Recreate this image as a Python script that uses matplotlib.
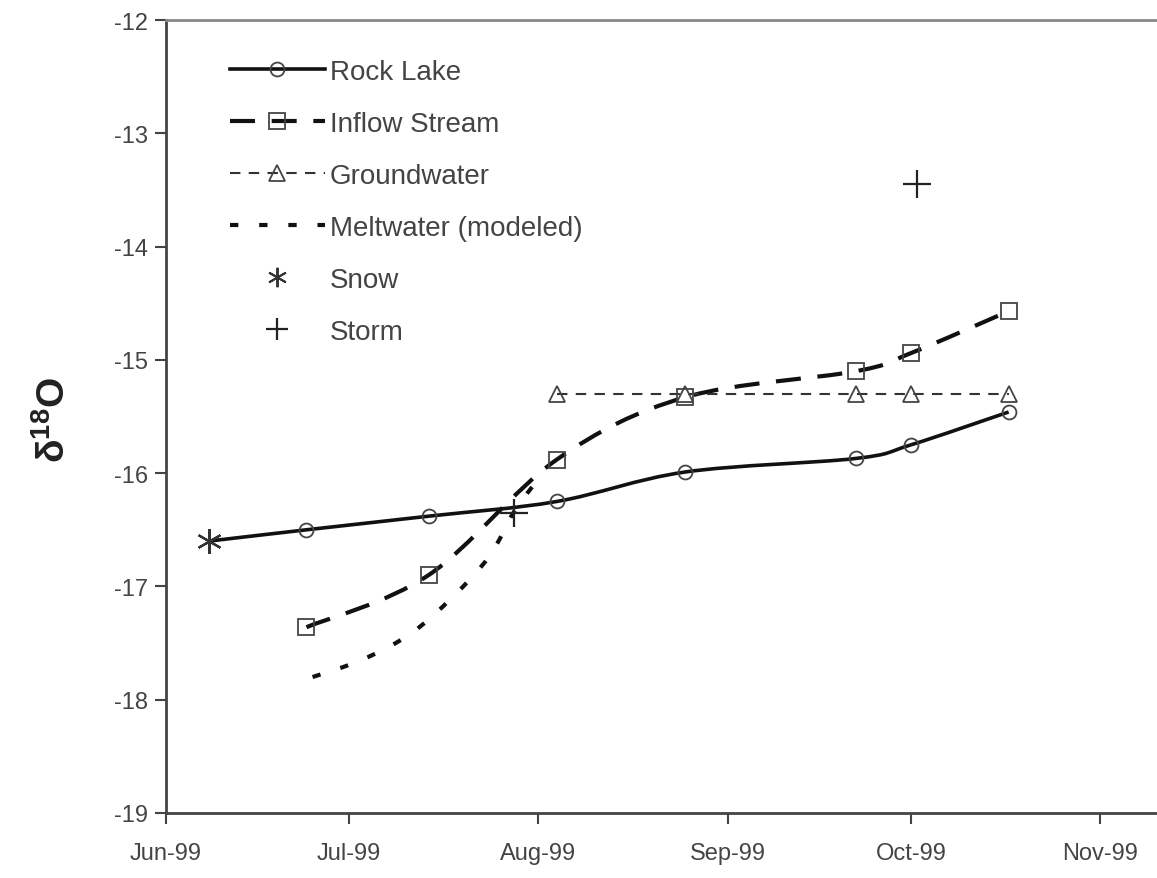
import matplotlib
matplotlib.use('Agg')
import matplotlib.pyplot as plt
import matplotlib.dates as mdates
from matplotlib.path import Path
from matplotlib.patches import PathPatch
from matplotlib.lines import Line2D
from datetime import datetime

plt.rcParams['font.family'] = ['Liberation Sans', 'DejaVu Sans']
plt.rcParams['mathtext.default'] = 'regular'

# data
rock_dates = ['1999-06-08', '1999-06-24', '1999-07-14', '1999-08-04',
              '1999-08-25', '1999-09-22', '1999-10-01', '1999-10-17']
rock_vals = [-16.6, -16.5, -16.38, -16.25, -15.99, -15.87, -15.75, -15.46]

inflow_dates = ['1999-06-24', '1999-07-14', '1999-08-04', '1999-08-25',
                '1999-09-22', '1999-10-01', '1999-10-17']
inflow_vals = [-17.36, -16.9, -15.88, -15.33, -15.1, -14.94, -14.57]

ground_dates = ['1999-08-04', '1999-08-25', '1999-09-22', '1999-10-01', '1999-10-17']
ground_vals = [-15.3, -15.3, -15.3, -15.3, -15.3]

melt_dates = ['1999-06-25', '1999-07-03', '1999-07-11', '1999-07-18',
              '1999-07-24', '1999-07-28', '1999-08-01']
melt_vals = [-17.8, -17.65, -17.42, -17.09, -16.73, -16.34, -16.05]

snow_dates = ['1999-06-08']
snow_vals = [-16.6]

storm_dates = ['1999-07-28', '1999-10-02']
storm_vals = [-16.35, -13.45]

tick_dates = ['1999-06-01', '1999-07-01', '1999-08-01', '1999-09-01',
              '1999-10-01', '1999-11-01']
tick_labels = ['Jun-99', 'Jul-99', 'Aug-99', 'Sep-99', 'Oct-99', 'Nov-99']


def to_num(dates):
    return [mdates.date2num(datetime.strptime(d, '%Y-%m-%d')) for d in dates]


def smooth_path(x, y):
    # excel style smoothed line: bezier segments, control points from neighbours
    verts = [(x[0], y[0])]
    codes = [Path.MOVETO]
    n = len(x)
    for i in range(n - 1):
        x0, y0 = (x[i - 1], y[i - 1]) if i > 0 else (x[i], y[i])
        x3, y3 = (x[i + 2], y[i + 2]) if i + 2 < n else (x[i + 1], y[i + 1])
        c1 = (x[i] + (x[i + 1] - x0) / 6.0, y[i] + (y[i + 1] - y0) / 6.0)
        c2 = (x[i + 1] - (x3 - x[i]) / 6.0, y[i + 1] - (y3 - y[i]) / 6.0)
        verts += [c1, c2, (x[i + 1], y[i + 1])]
        codes += [Path.CURVE4] * 3
    return Path(verts, codes)


fig = plt.figure(figsize=(11.57, 8.79), dpi=100)
ax = fig.add_axes([0.1435, 0.074, 0.8565, 0.902])

line_col = '#111111'
mark_col = '#444444'
melt_style = (0, (2, 5))

rx, ix, gx, mx = to_num(rock_dates), to_num(inflow_dates), to_num(ground_dates), to_num(melt_dates)

ax.add_patch(PathPatch(smooth_path(rx, rock_vals), fill=False, edgecolor=line_col, lw=2.6))
ax.add_patch(PathPatch(smooth_path(ix, inflow_vals), fill=False, edgecolor=line_col, lw=3.0,
                       linestyle=(0, (6, 4))))
ax.add_patch(PathPatch(smooth_path(mx, melt_vals), fill=False, edgecolor=line_col, lw=3.0,
                       linestyle=melt_style))
ax.plot(gx, ground_vals, color='#333333', lw=1.5, linestyle=(0, (5, 4)))

ax.plot(rx[1:], rock_vals[1:], linestyle='none', marker='o', ms=10, mfc='none', mec=mark_col, mew=1.3)
ax.plot(ix, inflow_vals, linestyle='none', marker='s', ms=12, mfc='none', mec=mark_col, mew=1.3)
ax.plot(gx, ground_vals, linestyle='none', marker='^', ms=11, mfc='none', mec=mark_col, mew=1.3)
ax.plot(to_num(snow_dates), snow_vals, linestyle='none', marker=(6, 2, 0), ms=18, mec='#333333', mew=1.6)
ax.plot(to_num(storm_dates), storm_vals, linestyle='none', marker='+', ms=20, mec='#222222', mew=1.6)

x_start = mdates.date2num(datetime(1999, 6, 1))
ax.set_xlim(x_start, x_start + 162.3)
ax.set_ylim(-19, -12)
ax.set_xticks(to_num(tick_dates))
ax.set_xticklabels(tick_labels)
ax.set_yticks(range(-19, -11))
ax.set_yticklabels(['-19', '-18', '-17', '-16', '-15', '-14', '-13', '-12'])

ax.spines['right'].set_visible(False)
ax.spines['top'].set_color('#888888')
ax.spines['top'].set_linewidth(2)
for s in ['left', 'bottom']:
    ax.spines[s].set_color('#444444')
    ax.spines[s].set_linewidth(2)
ax.tick_params(axis='both', direction='out', length=8, width=1.5, color='#444444',
               labelsize=17, labelcolor='#444444')
ax.tick_params(axis='x', pad=13)
ax.tick_params(axis='y', pad=5)

ax.set_ylabel(r'$\delta^{18}$O', fontsize=28, fontweight='bold', color='#222222')
ax.yaxis.set_label_coords(-0.094, 0.497)

handles = [
    Line2D([], [], color=line_col, lw=2.6, marker='o', ms=10, mfc='none', mec=mark_col, mew=1.3),
    Line2D([], [], color=line_col, lw=3.0, linestyle=(0, (6, 4)), marker='s', ms=12, mfc='none', mec=mark_col, mew=1.3),
    Line2D([], [], color='#333333', lw=1.5, linestyle=(0, (5, 4)), marker='^', ms=11, mfc='none', mec=mark_col, mew=1.3),
    Line2D([], [], color=line_col, lw=3.0, linestyle=melt_style),
    Line2D([], [], linestyle='none', marker=(6, 2, 0), ms=14, mec='#333333', mew=1.4),
    Line2D([], [], linestyle='none', marker='+', ms=16, mec='#222222', mew=1.6),
]
labels = ['Rock Lake', 'Inflow Stream', 'Groundwater', 'Meltwater (modeled)', 'Snow', 'Storm']
leg = ax.legend(handles, labels, loc='upper left', bbox_to_anchor=(0.045, 0.976), frameon=False,
                fontsize=20, numpoints=1, handlelength=3.4, handletextpad=0.2, labelspacing=0.94,
                borderpad=0.2)
for t in leg.get_texts():
    t.set_color('#444444')

fig.savefig('out.png', dpi=100)
